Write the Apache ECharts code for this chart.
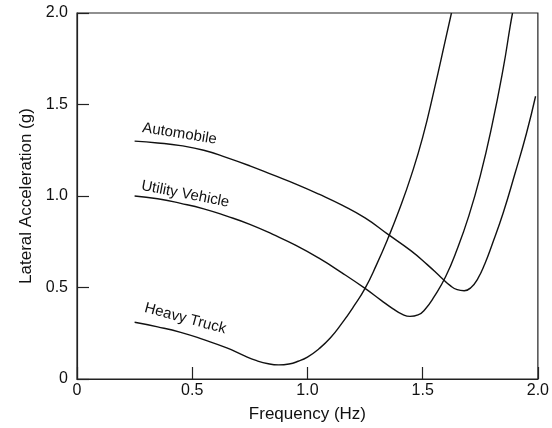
<!DOCTYPE html>
<html>
<head>
<meta charset="utf-8">
<script src="https://cdn.jsdelivr.net/npm/echarts@6/dist/echarts.min.js"></script>
<style>html,body{margin:0;padding:0;background:#fff}#c{width:552px;height:428px}</style>
</head>
<body>
<div id="c"></div>
<script>
// Data
var automobile = [[0.25,1.30],[0.35,1.29],[0.45,1.275],[0.55,1.25],[0.65,1.21],[0.75,1.165],[0.85,1.115],[0.95,1.065],[1.05,1.01],[1.15,0.95],[1.25,0.88],[1.35,0.79],[1.45,0.70],[1.52,0.625],[1.58,0.555],[1.62,0.51],[1.65,0.488],[1.68,0.482],[1.71,0.50],[1.74,0.55],[1.77,0.63],[1.80,0.73],[1.85,0.91],[1.90,1.12],[1.95,1.34],[1.99,1.545]];
var utilityVehicle = [[0.25,1.0],[0.35,0.985],[0.45,0.96],[0.55,0.93],[0.65,0.89],[0.75,0.845],[0.85,0.79],[0.95,0.73],[1.05,0.66],[1.15,0.58],[1.25,0.495],[1.32,0.43],[1.37,0.385],[1.41,0.355],[1.445,0.342],[1.48,0.35],[1.51,0.38],[1.55,0.45],[1.6,0.56],[1.65,0.71],[1.7,0.89],[1.75,1.11],[1.8,1.38],[1.85,1.70],[1.88,1.93],[1.89,2.0]];
var heavyTruck = [[0.25,0.31],[0.35,0.285],[0.45,0.255],[0.55,0.215],[0.65,0.17],[0.72,0.13],[0.78,0.10],[0.83,0.083],[0.875,0.077],[0.92,0.082],[0.96,0.097],[1.0,0.12],[1.05,0.165],[1.1,0.225],[1.15,0.305],[1.2,0.395],[1.25,0.495],[1.3,0.625],[1.35,0.77],[1.4,0.93],[1.45,1.11],[1.5,1.32],[1.55,1.58],[1.6,1.86],[1.625,2.0]];
var xTicks = [0, 0.5, 1.0, 1.5, 2.0];
var yTicks = [0, 0.5, 1.0, 1.5, 2.0];
var seriesNames = ['Automobile', 'Utility Vehicle', 'Heavy Truck'];
var labelAnchors = [[0.445, 1.34], [0.47, 1.01], [0.47, 0.33]];
var labelAngles = [-9, -11, -15];

var FONT = 'Liberation Sans, Arial, Helvetica, sans-serif';
var chart = echarts.init(document.getElementById('c'));
function fmt(v){ return v === 0 ? '0' : v.toFixed(1); }
function mkSeries(name, data, idx){
  return {
    name: name, type: 'line', data: data, smooth: 0.5, showSymbol: false,
    lineStyle: {color: '#111', width: 1.4}, clip: true,
    markPoint: {
      symbol: 'circle', symbolSize: 0,
      data: [{coord: labelAnchors[idx]}],
      label: {show: true, position: 'inside', formatter: name, rotate: labelAngles[idx],
        color: '#111', fontSize: 15, fontFamily: FONT}
    }
  };
}
chart.setOption({
  animation: false,
  backgroundColor: '#fff',
  grid: {left: 77, right: 11, top: 13, bottom: 46, show: true, borderColor: '#222', borderWidth: 1.2},
  xAxis: {
    type: 'value', min: xTicks[0], max: xTicks[xTicks.length-1], interval: 0.5,
    name: 'Frequency (Hz)', nameLocation: 'middle', nameGap: 27,
    nameTextStyle: {color: '#111', fontSize: 17, fontFamily: FONT},
    axisLine: {show: true, lineStyle: {color: '#222', width: 1.2}},
    axisTick: {show: true, inside: true, length: 12, lineStyle: {color: '#222', width: 1.2}},
    axisLabel: {color: '#111', fontSize: 16, fontFamily: FONT, margin: 4, formatter: fmt},
    splitLine: {show: false}
  },
  yAxis: {
    type: 'value', min: yTicks[0], max: yTicks[yTicks.length-1], interval: 0.5,
    name: 'Lateral Acceleration (g)', nameLocation: 'middle', nameGap: 42,
    nameTextStyle: {color: '#111', fontSize: 17, fontFamily: FONT},
    axisLine: {show: true, lineStyle: {color: '#222', width: 1.2}},
    axisTick: {show: true, inside: true, length: 12, lineStyle: {color: '#222', width: 1.2}},
    axisLabel: {color: '#111', fontSize: 16, fontFamily: FONT, margin: 9, formatter: fmt},
    splitLine: {show: false}
  },
  series: [
    mkSeries(seriesNames[0], automobile, 0),
    mkSeries(seriesNames[1], utilityVehicle, 1),
    mkSeries(seriesNames[2], heavyTruck, 2)
  ]
});
</script>
</body>
</html>
